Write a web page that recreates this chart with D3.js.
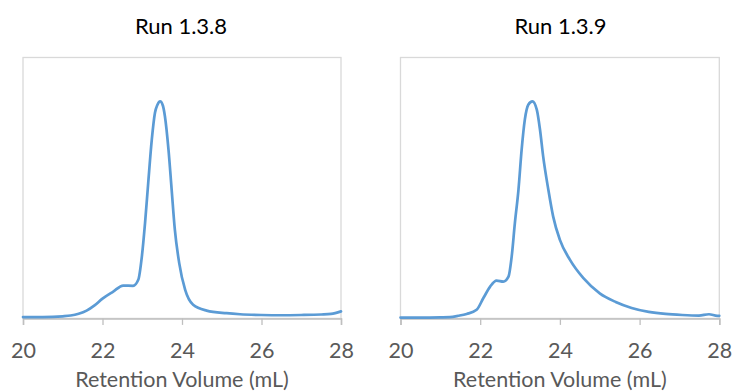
<!DOCTYPE html>
<html><head><meta charset="utf-8">
<script src="https://cdn.jsdelivr.net/npm/d3@7"></script>
<style>html,body{margin:0;padding:0;background:#fff;}svg{display:block;}</style>
</head><body>
<svg id="chart" width="732" height="392"></svg>
<script>
// ---- data ----
const titles = ["Run 1.3.8", "Run 1.3.9"];
const xTicks = [20, 22, 24, 26, 28];
const xLabel = "Retention Volume (mL)";
// retention volume (mL) and normalized absorbance
const run138Volume = [20.0,20.5,21.0,21.2,21.4,21.6,21.8,22.0,22.27,22.52,22.77,22.9,22.99,23.07,23.15,23.24,23.32,23.38,23.45,23.52,23.57,23.66,23.74,23.82,23.93,24.08,24.28,24.62,25.12,25.46,26.0,26.5,27.0,27.5,27.75,28.0];
const run138Signal = [0.5,0.5,0.8,1.1,1.8,3.0,5.0,7.6,10.3,12.6,12.5,14.8,23.7,36.5,51.9,68.5,78.8,81.8,83.2,81.5,77.5,64.7,49.3,34.0,21.2,10.9,5.2,3.0,2.0,1.6,1.3,1.2,1.3,1.5,1.7,2.7];
const run139Volume = [20.0,20.5,21.0,21.24,21.45,21.66,21.91,22.08,22.25,22.41,22.58,22.71,22.79,22.87,22.96,23.04,23.12,23.21,23.31,23.42,23.5,23.58,23.71,23.83,24.0,24.25,24.59,25.0,25.4,25.8,26.23,26.65,27.07,27.49,27.74,27.95,28.0];
const run139Signal = [0.3,0.3,0.4,0.5,1.0,1.7,3.3,7.8,12.2,14.5,14.1,16.0,23.7,36.5,49.3,64.7,76.2,82.0,83.2,80.0,72.4,62.1,49.3,39.1,30.1,22.5,15.4,9.6,6.3,4.0,2.5,1.7,1.3,1.1,1.6,1.0,1.0];

const series = [
  {title: titles[0], vol: run138Volume, sig: run138Signal},
  {title: titles[1], vol: run139Volume, sig: run139Signal}
];

// ---- layout ----
const panels = [
  {x0: 23, x1: 341, titleX: 181},
  {x0: 400.5, x1: 719.3, titleX: 560.5}
];
const yTop = 57.5, yBottom = 318.4;
const font = "Lato, 'Open Sans', sans-serif";

const svg = d3.select("#chart");

series.forEach((s, i) => {
  const p = panels[i];
  const x = d3.scaleLinear().domain([20, 28]).range([p.x0, p.x1]);
  const y = d3.scaleLinear().domain([0, 100]).range([yBottom, yTop]);
  const g = svg.append("g");

  // plot border
  g.append("rect")
    .attr("x", p.x0).attr("y", yTop)
    .attr("width", p.x1 - p.x0).attr("height", yBottom - yTop)
    .attr("fill", "none").attr("stroke", "#d9d9d9").attr("stroke-width", 1.3);

  // x axis
  const ax = g.append("g").attr("transform", `translate(0,${yBottom})`)
    .call(d3.axisBottom(x).tickValues(xTicks).tickSize(6.5).tickPadding(14).tickFormat(d3.format("d")));
  ax.select(".domain").attr("stroke", "#bfbfbf").attr("stroke-width", 1.5);
  ax.selectAll(".tick line").attr("stroke", "#bfbfbf").attr("stroke-width", 1.3);
  ax.selectAll(".tick text")
    .attr("fill", "#595959").attr("font-family", font).attr("font-size", 21.5)
    .attr("dy", 0).attr("y", 358.3 - yBottom);

  // line
  const pts = s.vol.map((v, k) => [v, s.sig[k]]);
  g.append("path")
    .datum(pts)
    .attr("fill", "none")
    .attr("stroke", "#5b9bd5")
    .attr("stroke-width", 2.7)
    .attr("stroke-linejoin", "round")
    .attr("stroke-linecap", "round")
    .attr("d", d3.line().x(d => x(d[0])).y(d => y(d[1])).curve(d3.curveMonotoneX));

  // title
  g.append("text")
    .attr("x", p.titleX).attr("y", 34)
    .attr("text-anchor", "middle")
    .attr("font-family", font).attr("font-size", 22)
    .attr("fill", "#000")
    .text(s.title);

  // axis title
  g.append("text")
    .attr("x", (p.x0 + p.x1) / 2).attr("y", 386.5)
    .attr("text-anchor", "middle")
    .attr("font-family", font).attr("font-size", 21.5)
    .attr("fill", "#595959")
    .text(xLabel);
});
</script>
</body></html>
